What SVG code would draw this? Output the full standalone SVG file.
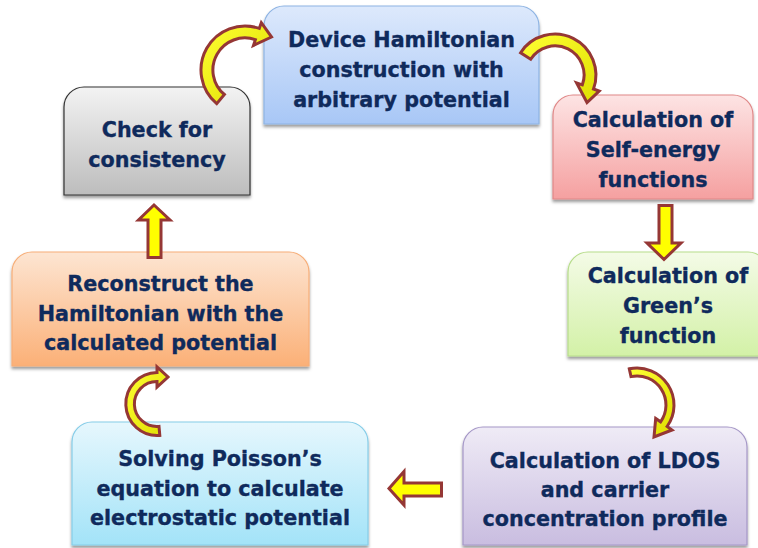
<svg xmlns="http://www.w3.org/2000/svg" width="758" height="548" viewBox="0 0 758 548">
  <defs>
    <style>
      .box { stroke-width: 1.2; filter: url(#shadow); }
      .label { font-family: "DejaVu Sans", Verdana, sans-serif; font-weight: bold; font-size: 20.7px; fill: #0f2a5c; stroke: #0f2a5c; stroke-width: 0.35; text-anchor: middle; }
      .arrow { stroke: #953735; stroke-width: 3; stroke-linejoin: miter; }
      .straight { fill: #ffff00; }
      .curved { fill: url(#gYellow); }
    </style>
    <filter id="shadow" x="-5%" y="-5%" width="110%" height="115%">
      <feDropShadow dx="0" dy="2.5" stdDeviation="1.4" flood-color="#000" flood-opacity="0.4"/>
    </filter>
    <linearGradient id="gBlue" x1="0" y1="0" x2="0" y2="1">
      <stop offset="0" stop-color="#dde9fc"/>
      <stop offset="1" stop-color="#a8c7f6"/>
    </linearGradient>
    <linearGradient id="gPink" x1="0" y1="0" x2="0" y2="1">
      <stop offset="0" stop-color="#fde4e4"/>
      <stop offset="1" stop-color="#f5a0a0"/>
    </linearGradient>
    <linearGradient id="gGreen" x1="0" y1="0" x2="0" y2="1">
      <stop offset="0" stop-color="#f4fbe7"/>
      <stop offset="1" stop-color="#d3f1a7"/>
    </linearGradient>
    <linearGradient id="gGray" x1="0" y1="0" x2="0" y2="1">
      <stop offset="0" stop-color="#f3f3f3"/>
      <stop offset="1" stop-color="#bdbdbd"/>
    </linearGradient>
    <linearGradient id="gOrange" x1="0" y1="0" x2="0" y2="1">
      <stop offset="0" stop-color="#fde5d2"/>
      <stop offset="1" stop-color="#fbb077"/>
    </linearGradient>
    <linearGradient id="gCyan" x1="0" y1="0" x2="0" y2="1">
      <stop offset="0" stop-color="#e6f7fd"/>
      <stop offset="1" stop-color="#a3e3f8"/>
    </linearGradient>
    <linearGradient id="gPurple" x1="0" y1="0" x2="0" y2="1">
      <stop offset="0" stop-color="#efebf6"/>
      <stop offset="1" stop-color="#c9bde0"/>
    </linearGradient>
    <linearGradient id="gYellow" x1="0" y1="0" x2="1" y2="1">
      <stop offset="0" stop-color="#ffff33"/>
      <stop offset="1" stop-color="#dede00"/>
    </linearGradient>
  </defs>

  <rect width="758" height="548" fill="#ffffff"/>

  <!-- process steps: rounded-top boxes -->
  <g id="node-device-hamiltonian">
    <path class="box" d="M264,124 V26 A20,20 0 0 1 284,6 H519 A20,20 0 0 1 539,26 V124 Z" fill="url(#gBlue)" stroke="#8eb4e3"/>
    <text class="label" x="401.5" y="47">Device Hamiltonian</text>
    <text class="label" x="401.5" y="77">construction with</text>
    <text class="label" x="401.5" y="107">arbitrary potential</text>
  </g>

  <g id="node-self-energy">
    <path class="box" d="M553,199 V115 A20,20 0 0 1 573,95 H733 A20,20 0 0 1 753,115 V199 Z" fill="url(#gPink)" stroke="#e08888"/>
    <text class="label" x="653" y="127">Calculation of</text>
    <text class="label" x="653" y="157">Self-energy</text>
    <text class="label" x="653" y="187">functions</text>
  </g>

  <g id="node-greens-function">
    <path class="box" d="M568,356 V272 A20,20 0 0 1 588,252 H748 A20,20 0 0 1 768,272 V356 Z" fill="url(#gGreen)" stroke="#b7dd8b"/>
    <text class="label" x="668" y="283">Calculation of</text>
    <text class="label" x="668" y="313">Green’s</text>
    <text class="label" x="668" y="343">function</text>
  </g>

  <g id="node-ldos">
    <path class="box" d="M463,545 V447 A20,20 0 0 1 483,427 H727 A20,20 0 0 1 747,447 V545 Z" fill="url(#gPurple)" stroke="#a597c7"/>
    <text class="label" x="605" y="468">Calculation of LDOS</text>
    <text class="label" x="605" y="497">and carrier</text>
    <text class="label" x="605" y="526">concentration profile</text>
  </g>

  <g id="node-poisson">
    <path class="box" d="M72,545 V442 A20,20 0 0 1 92,422 H348 A20,20 0 0 1 368,442 V545 Z" fill="url(#gCyan)" stroke="#86cde8"/>
    <text class="label" x="220" y="466">Solving Poisson’s</text>
    <text class="label" x="220" y="495.5">equation to calculate</text>
    <text class="label" x="220" y="525">electrostatic potential</text>
  </g>

  <g id="node-reconstruct">
    <path class="box" d="M12,366 V272 A20,20 0 0 1 32,252 H289 A20,20 0 0 1 309,272 V366 Z" fill="url(#gOrange)" stroke="#f7ae78"/>
    <text class="label" x="160.5" y="291">Reconstruct the</text>
    <text class="label" x="160.5" y="320.5">Hamiltonian with the</text>
    <text class="label" x="160.5" y="350">calculated potential</text>
  </g>

  <g id="node-check">
    <path class="box" d="M64,195 V107 A20,20 0 0 1 84,87 H230 A20,20 0 0 1 250,107 V195 Z" fill="url(#gGray)" stroke="#333333"/>
    <text class="label" x="157" y="137">Check for</text>
    <text class="label" x="157" y="167">consistency</text>
  </g>

  <!-- connectors: block arrows between steps -->
  <g id="connectors">
    <!-- check -> device hamiltonian -->
    <path class="arrow curved" d="M216.7,103.7 A44,44 0 0 1 259.3,28.4 L261.3,22.7 L271.5,37 L253.5,45.4 L255.4,39.7 A32,32 0 0 0 224.4,94.5 Z"/>
    <!-- device hamiltonian -> self-energy -->
    <path class="arrow curved" d="M520.6,52.7 A41,41 0 0 1 593.5,89 L599.2,91.1 L587,102.5 L576.6,82.9 L582.3,84.9 A29,29 0 0 0 530.7,59.2 Z"/>
    <!-- self-energy -> green's function -->
    <path class="arrow straight" d="M659,205.5 H672 V243 H681 L664,259.5 L647,243 H659 Z"/>
    <!-- green's function -> ldos -->
    <path class="arrow curved" d="M629.3,368.8 A37,37 0 0 1 667.1,426.5 L672,430 L654,437 L655.7,418.4 L660.6,421.8 A29,29 0 0 0 631,376.6 Z"/>
    <!-- ldos -> poisson -->
    <path class="arrow straight" d="M441.5,483 V496 H404 V505 L389,488.5 L404,471.5 V483 Z"/>
    <!-- poisson -> reconstruct -->
    <path class="arrow curved" d="M159.8,435.4 A31.5,31.5 0 1 1 157,372.5 L157,367 L168,377 L157,387 L157,381.5 A22.5,22.5 0 1 0 159,426.4 Z"/>
    <!-- reconstruct -> check -->
    <path class="arrow straight" d="M148,257.5 V220 H138.5 L154,205 L170,220 H161 V257.5 Z"/>
  </g>
</svg>
